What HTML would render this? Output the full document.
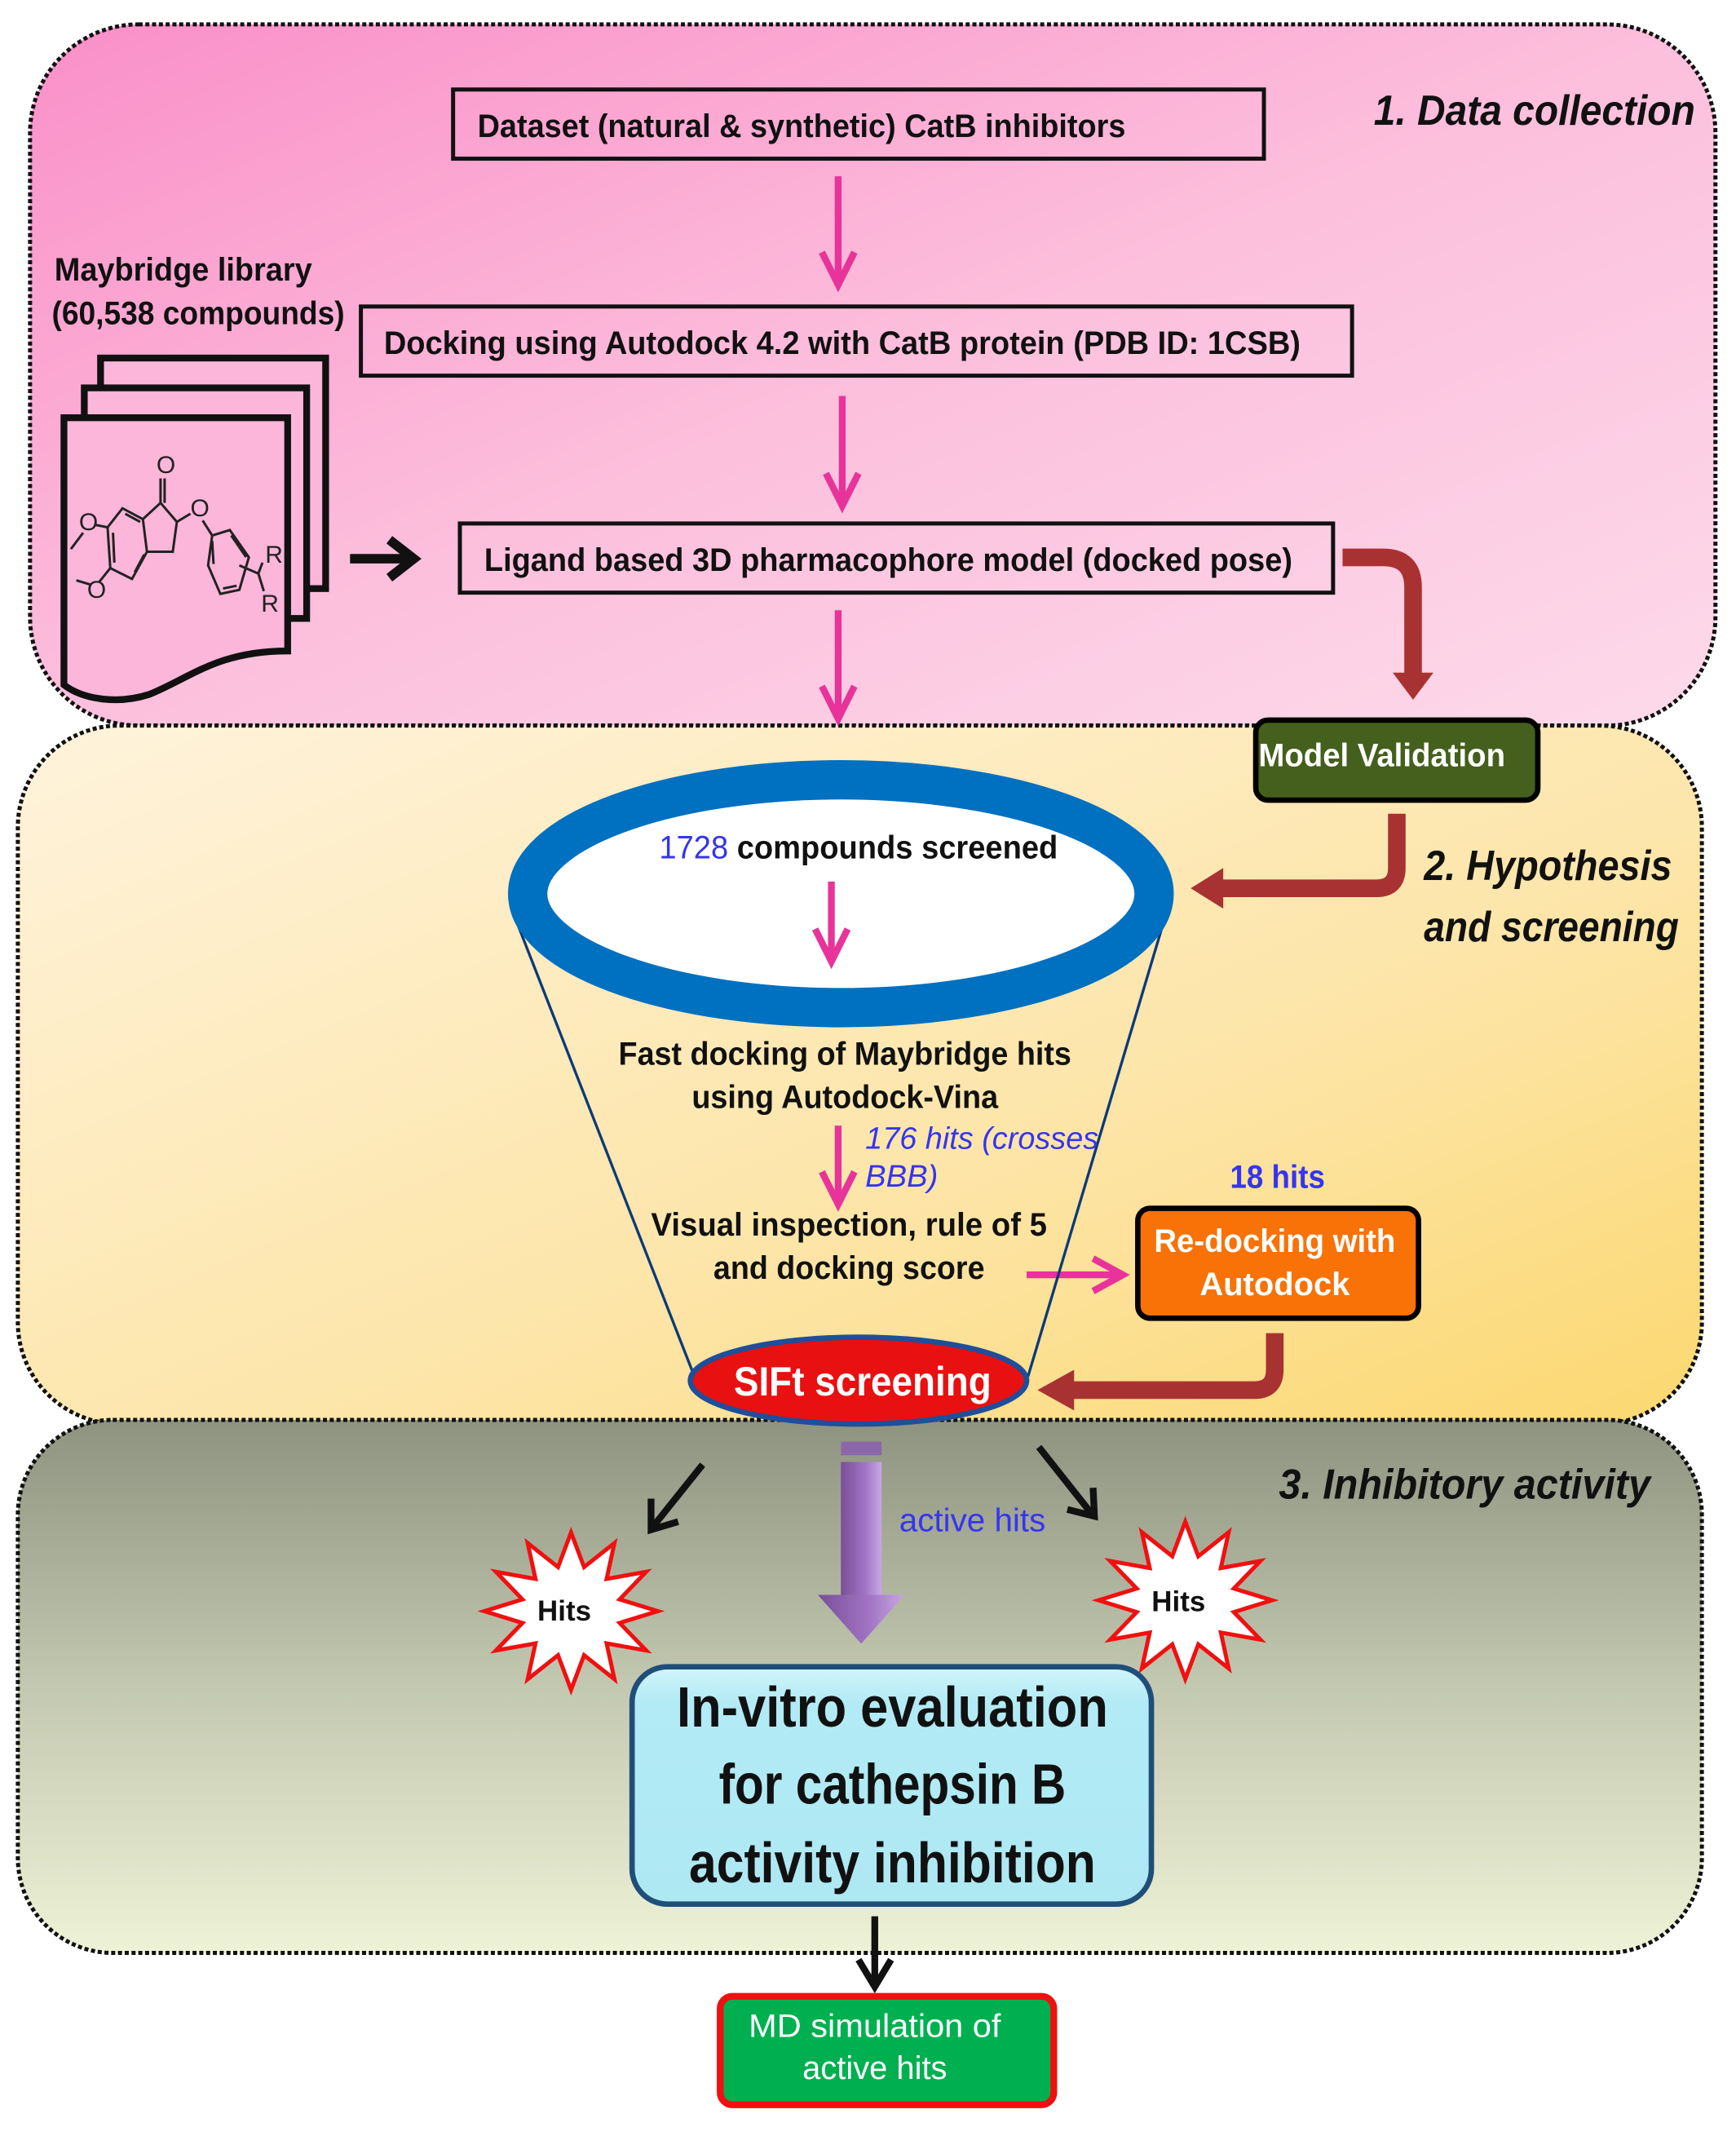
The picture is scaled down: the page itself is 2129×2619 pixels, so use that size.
<!DOCTYPE html>
<html><head><meta charset="utf-8"><style>
html,body{margin:0;padding:0;background:#fff;}
svg{display:block;}
text{font-family:"Liberation Sans Narrow","Liberation Sans",sans-serif;}
</style></head><body>
<svg width="2129" height="2619" viewBox="0 0 1280 1575" xmlns="http://www.w3.org/2000/svg">
<defs>
<linearGradient id="g1" x1="0" y1="0" x2="1" y2="1"><stop offset="0" stop-color="#fa8fc8"/><stop offset="0.5" stop-color="#fcbfdc"/><stop offset="1" stop-color="#fddaea"/></linearGradient>
<linearGradient id="g2" x1="0" y1="0" x2="1" y2="1"><stop offset="0" stop-color="#fef3dc"/><stop offset="0.6" stop-color="#fde5a8"/><stop offset="1" stop-color="#fbd870"/></linearGradient>
<linearGradient id="g3" x1="0" y1="0" x2="0" y2="1"><stop offset="0" stop-color="#8e9380"/><stop offset="0.5" stop-color="#c3c8b0"/><stop offset="1" stop-color="#eef2d6"/></linearGradient>
<linearGradient id="gp" x1="0" y1="0" x2="1" y2="0"><stop offset="0" stop-color="#7a4e98"/><stop offset="0.6" stop-color="#a175c4"/><stop offset="1" stop-color="#c9a6e6"/></linearGradient>
<linearGradient id="gb" x1="0" y1="0" x2="0" y2="1"><stop offset="0" stop-color="#d2f4fb"/><stop offset="0.15" stop-color="#b2ebf5"/><stop offset="1" stop-color="#aee8f2"/></linearGradient>
</defs>

<rect x="22" y="18" width="1243" height="517" rx="80" fill="url(#g1)" stroke="#111" stroke-width="3" stroke-dasharray="3,2"/>
<rect x="13" y="535" width="1242" height="515" rx="75" fill="url(#g2)" stroke="#111" stroke-width="3" stroke-dasharray="3,2"/>
<rect x="13" y="1047" width="1242" height="393" rx="70" fill="url(#g3)" stroke="#111" stroke-width="3" stroke-dasharray="3,2"/>

<text x="1013" y="92" font-size="31" font-weight="bold" font-style="italic" fill="#111" textLength="237" lengthAdjust="spacingAndGlyphs">1. Data collection</text>
<text x="1050" y="649" font-size="31" font-weight="bold" font-style="italic" fill="#111" textLength="183" lengthAdjust="spacingAndGlyphs">2. Hypothesis</text>
<text x="1050" y="694" font-size="31" font-weight="bold" font-style="italic" fill="#111" textLength="188" lengthAdjust="spacingAndGlyphs">and screening</text>
<text x="943" y="1105" font-size="31" font-weight="bold" font-style="italic" fill="#111" textLength="274" lengthAdjust="spacingAndGlyphs">3. Inhibitory activity</text>

<rect x="334" y="66" width="598" height="51" fill="none" stroke="#111" stroke-width="3"/>
<text x="352" y="101" font-size="24" font-weight="bold" fill="#111" textLength="478" lengthAdjust="spacingAndGlyphs">Dataset (natural &amp; synthetic)  CatB inhibitors</text>
<rect x="266" y="226" width="731" height="51" fill="none" stroke="#111" stroke-width="3"/>
<text x="283" y="261" font-size="24" font-weight="bold" fill="#111" textLength="676" lengthAdjust="spacingAndGlyphs">Docking using Autodock 4.2 with CatB protein (PDB ID: 1CSB)</text>
<rect x="339" y="386" width="644" height="51" fill="none" stroke="#111" stroke-width="3"/>
<text x="357" y="421" font-size="24" font-weight="bold" fill="#111" textLength="596" lengthAdjust="spacingAndGlyphs">Ligand based 3D pharmacophore model (docked pose)</text>

<text x="40" y="207" font-size="24" font-weight="bold" fill="#111" textLength="190" lengthAdjust="spacingAndGlyphs">Maybridge library</text>
<text x="38" y="239" font-size="24" font-weight="bold" fill="#111" textLength="216" lengthAdjust="spacingAndGlyphs">(60,538 compounds)</text>

<g stroke="#e8339a" stroke-width="5" fill="none">
<line x1="618" y1="130" x2="618" y2="210"/><polyline points="606,186 618,210 630,186"/>
<line x1="621" y1="292" x2="621" y2="373"/><polyline points="609,349 621,373 633,349"/>
<line x1="618" y1="450" x2="618" y2="530"/><polyline points="606,506 618,530 630,506"/>
<line x1="618" y1="830" x2="618" y2="888"/><polyline points="606,864 618,888 630,864"/>
<line x1="757" y1="940" x2="828" y2="940"/><polyline points="806,928 828,940 806,952"/>
</g>

<g stroke="#111" stroke-width="5" fill="#fcb6da">
<rect x="74" y="264" width="166" height="170"/>
<rect x="62" y="286" width="164" height="170"/>
<path d="M47,308 H212 V480 C160,480 140,500 110,512 C85,520 60,515 47,505 Z"/>
</g>
<g transform="translate(36.08,252.55) scale(0.2004)" stroke="#222" stroke-width="9" fill="none">
<polyline points="410,590 470,660 455,770 360,770 345,650 410,590"/>
<line x1="410" y1="590" x2="410" y2="500"/><line x1="425" y1="590" x2="425" y2="500"/>
<polyline points="345,650 270,610 215,680 225,830 305,870 360,770"/>
<line x1="280" y1="630" x2="335" y2="660"/><line x1="235" y1="700" x2="240" y2="810"/><line x1="315" y1="845" x2="350" y2="780"/>
<line x1="215" y1="680" x2="165" y2="670"/><line x1="125" y1="700" x2="80" y2="760"/>
<line x1="225" y1="830" x2="185" y2="880"/><line x1="150" y1="890" x2="100" y2="875"/>
<line x1="470" y1="660" x2="520" y2="630"/>
<polyline points="565,655 600,710 665,690 735,790 700,910 630,925 585,820 600,710"/>
<line x1="600" y1="730" x2="605" y2="815"/><line x1="640" y1="905" x2="690" y2="895"/><line x1="670" y1="710" x2="725" y2="790"/>
<line x1="700" y1="820" x2="770" y2="850"/><line x1="770" y1="850" x2="785" y2="810"/><line x1="770" y1="850" x2="790" y2="915"/>
</g>
<g transform="translate(36.08,252.55) scale(0.2004)" font-size="90" fill="#222">
<text x="395" y="480">O</text><text x="110" y="690">O</text><text x="140" y="940">O</text><text x="520" y="640">O</text><text x="795" y="810">R</text><text x="780" y="990">R</text>
</g>
<g stroke="#111" stroke-width="7" fill="none"><line x1="258" y1="412" x2="300" y2="412"/><polyline points="287,398 305,412 287,426"/></g>

<g stroke="#a83232" stroke-width="13" fill="none">
<path d="M990,411 H1020 Q1042,411 1042,433 V498"/>
<path d="M1030,600 V640 Q1030,655 1015,655 H900"/>
<path d="M940,983 V1010 Q940,1025 925,1025 H790"/>
</g>
<g fill="#a83232">
<polygon points="1027,496 1057,496 1042,516"/>
<polygon points="902,640 902,670 878,655"/>
<polygon points="792,1010 792,1040 765,1025"/>
</g>

<rect x="926" y="531" width="208" height="59" rx="9" fill="#44601c" stroke="#000" stroke-width="4"/>
<text x="928" y="565" font-size="24" font-weight="bold" fill="#fff" textLength="182" lengthAdjust="spacingAndGlyphs">Model Validation</text>

<line x1="381" y1="680" x2="512" y2="1015" stroke="#0b3a78" stroke-width="2"/>
<line x1="858" y1="680" x2="758" y2="1015" stroke="#0b3a78" stroke-width="2"/>
<ellipse cx="620" cy="659" rx="231" ry="84" fill="#fff" stroke="#0070c0" stroke-width="29"/>
<text x="633" y="633" font-size="24" font-weight="bold" fill="#111" text-anchor="middle" textLength="294" lengthAdjust="spacingAndGlyphs"><tspan fill="#3535f0" font-weight="normal">1728</tspan> compounds screened</text>
<g stroke="#e8339a" stroke-width="5" fill="none">
<line x1="613" y1="650" x2="613" y2="709"/><polyline points="601,685 613,709 625,685"/>
</g>

<text x="623" y="785" font-size="24" font-weight="bold" fill="#111" text-anchor="middle" textLength="334" lengthAdjust="spacingAndGlyphs">Fast docking of Maybridge hits</text>
<text x="623" y="817" font-size="24" font-weight="bold" fill="#111" text-anchor="middle" textLength="226" lengthAdjust="spacingAndGlyphs">using Autodock-Vina</text>
<text x="638" y="847" font-size="23" font-style="italic" fill="#3535f0" textLength="172" lengthAdjust="spacingAndGlyphs">176 hits (crosses</text>
<text x="638" y="875" font-size="23" font-style="italic" fill="#3535f0">BBB)</text>
<text x="626" y="911" font-size="24" font-weight="bold" fill="#111" text-anchor="middle" textLength="292" lengthAdjust="spacingAndGlyphs">Visual inspection, rule of 5</text>
<text x="626" y="943" font-size="24" font-weight="bold" fill="#111" text-anchor="middle" textLength="200" lengthAdjust="spacingAndGlyphs">and docking score</text>
<text x="942" y="876" font-size="24" fill="#3535f0" text-anchor="middle" font-weight="bold" textLength="70" lengthAdjust="spacingAndGlyphs">18 hits</text>

<rect x="839" y="891" width="207" height="81" rx="9" fill="#f87208" stroke="#000" stroke-width="4"/>
<text x="940" y="923" font-size="24" font-weight="bold" fill="#fff" text-anchor="middle" textLength="178" lengthAdjust="spacingAndGlyphs">Re-docking with</text>
<text x="940" y="955" font-size="24" font-weight="bold" fill="#fff" text-anchor="middle">Autodock</text>

<ellipse cx="633" cy="1018" rx="124" ry="32" fill="#e81010" stroke="#1f4e9a" stroke-width="4"/>
<text x="636" y="1029" font-size="30" font-weight="bold" fill="#fff" text-anchor="middle" textLength="190" lengthAdjust="spacingAndGlyphs">SIFt screening</text>

<rect x="620" y="1063" width="30" height="10" fill="#8a68a8"/>
<rect x="620" y="1078" width="30" height="100" fill="url(#gp)"/>
<polygon points="603,1176 667,1176 635,1212" fill="url(#gp)"/>
<text x="663" y="1129" font-size="24" fill="#3535f0" textLength="108" lengthAdjust="spacingAndGlyphs">active hits</text>

<g stroke="#111" stroke-width="5" fill="none">
<line x1="518" y1="1080" x2="482" y2="1125"/><polyline points="480,1105 480,1128 500,1122"/>
<line x1="766" y1="1067" x2="804" y2="1115"/><polyline points="787,1113 807,1118 806,1097"/>
</g>

<g fill="#fff" stroke="#f01010" stroke-width="5">
<polygon transform="translate(421,1188) scale(64,58)" vector-effect="non-scaling-stroke" points="0,-1 .15,-.56 .5,-.866 .41,-.41 .866,-.5 .56,-.15 1,0 .56,.15 .866,.5 .41,.41 .5,.866 .15,.56 0,1 -.15,.56 -.5,.866 -.41,.41 -.866,.5 -.56,.15 -1,0 -.56,-.15 -.866,-.5 -.41,-.41 -.5,-.866 -.15,-.56"/>
<polygon transform="translate(874,1180) scale(64,58)" vector-effect="non-scaling-stroke" points="0,-1 .15,-.56 .5,-.866 .41,-.41 .866,-.5 .56,-.15 1,0 .56,.15 .866,.5 .41,.41 .5,.866 .15,.56 0,1 -.15,.56 -.5,.866 -.41,.41 -.866,.5 -.56,.15 -1,0 -.56,-.15 -.866,-.5 -.41,-.41 -.5,-.866 -.15,-.56"/>
</g>
<text x="416" y="1195" font-size="21" font-weight="bold" fill="#111" text-anchor="middle">Hits</text>
<text x="869" y="1188" font-size="21" font-weight="bold" fill="#111" text-anchor="middle">Hits</text>

<rect x="466" y="1229" width="383" height="175" rx="26" fill="url(#gb)" stroke="#1f4e79" stroke-width="4"/>
<text x="658" y="1273" font-size="42" font-weight="bold" fill="#111" text-anchor="middle" textLength="318" lengthAdjust="spacingAndGlyphs">In-vitro evaluation</text>
<text x="658" y="1330" font-size="42" font-weight="bold" fill="#111" text-anchor="middle" textLength="256" lengthAdjust="spacingAndGlyphs">for cathepsin B</text>
<text x="658" y="1388" font-size="42" font-weight="bold" fill="#111" text-anchor="middle" textLength="300" lengthAdjust="spacingAndGlyphs">activity inhibition</text>

<g stroke="#111" stroke-width="5" fill="none"><line x1="645" y1="1413" x2="645" y2="1462"/><polyline points="633,1445 645,1465 657,1445"/></g>

<rect x="531" y="1472" width="246" height="80" rx="9" fill="#00b050" stroke="#f01010" stroke-width="5"/>
<text x="645" y="1502" font-size="24" fill="#fff" text-anchor="middle" textLength="186" lengthAdjust="spacingAndGlyphs">MD simulation of</text>
<text x="645" y="1533" font-size="24" fill="#fff" text-anchor="middle">active hits</text>
</svg>
</body></html>
